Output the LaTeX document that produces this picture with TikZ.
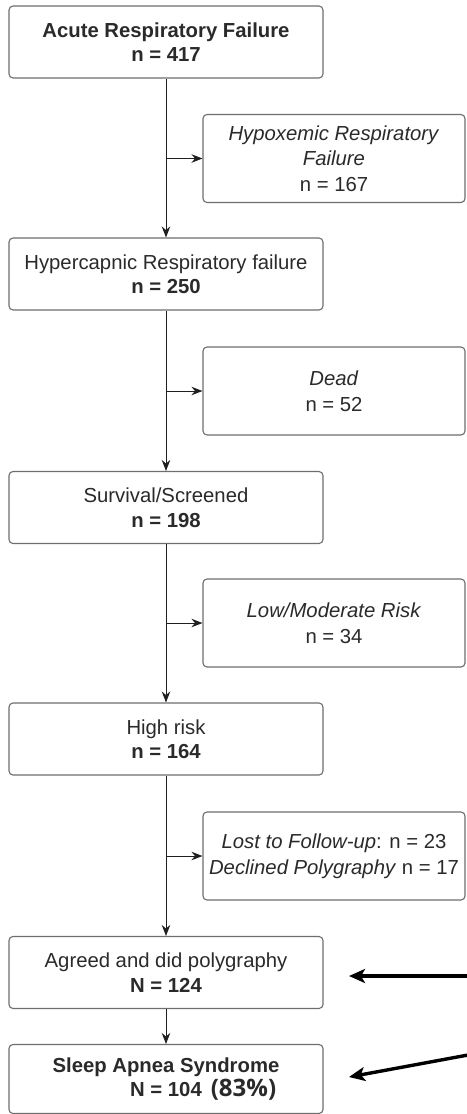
\documentclass[tikz,border=0pt]{standalone}
\usepackage{fontspec}
\setmainfont{Liberation Sans}
\newfontfamily\pctfont{Open Sans}
\usetikzlibrary{arrows.meta}
\definecolor{boxgray}{HTML}{6E6E6E}
\definecolor{txt}{HTML}{2A2A2A}
\begin{document}
\begin{tikzpicture}[x=1pt,y=-1pt,
  mainbox/.style={draw=boxgray, line width=1.1pt, rounded corners=4pt,
    minimum width=314pt, minimum height=72pt, inner sep=0pt, align=center,
    font=\fontsize{20.3}{24.5}\selectfont, text=txt},
  sidebox/.style={mainbox, minimum width=262pt, minimum height=88pt,
    font=\fontsize{20.3}{25.5}\selectfont},
  flow/.style={draw=black!88, line width=1pt, -{Stealth[length=11pt,width=8.5pt]}},
  bigarrow/.style={draw=black, line width=3.4pt, -{Stealth[length=16pt,width=14pt,inset=4pt]}}]
\useasboundingbox (0,0) rectangle (466,1114);
\fill[white] (0,0) rectangle (466,1114);

% main column
\node[mainbox] (b1) at (166,42) {\textbf{Acute Respiratory Failure}\\\textbf{n = 417}};
\node[mainbox] (b3) at (166,274) {Hypercapnic Respiratory failure\\\textbf{n = 250}};
\node[mainbox] (b5) at (166,507.5) {Survival/Screened\\\textbf{n = 198}};
\node[mainbox] (b7) at (166,739) {High risk\\\textbf{n = 164}};
\node[mainbox] (b9) at (166,972.5) {Agreed and did polygraphy\\\textbf{N = 124}};
\node[mainbox, minimum height=69pt] (b10) at (166,1079) {\textbf{Sleep Apnea Syndrome}\\\textbf{N = 104}\rlap{\hspace{9pt}{\pctfont\bfseries\fontsize{24}{24}\selectfont (83\%)}}};

% side boxes
\node[sidebox] (r2) at (334,158.5) {\textit{Hypoxemic Respiratory}\\\textit{Failure}\\n = 167};
\node[sidebox] (r4) at (334,391) {\textit{Dead}\\n = 52};
\node[sidebox] (r6) at (334,623) {\textit{Low/Moderate Risk}\\n = 34};
\node[sidebox] (r8) at (334,856) {\textit{Lost to Follow-up}: n = 23\\\textit{Declined Polygraphy} n = 17};

% vertical flow
\draw[flow] (b1) -- (b3);
\draw[flow] (b3) -- (b5);
\draw[flow] (b5) -- (b7);
\draw[flow] (b7) -- (b9);
\draw[flow] (b9) -- (b10);

% side branches
\draw[flow] (b1.south |- r2.west) -- (r2.west);
\draw[flow] (b3.south |- r4.west) -- (r4.west);
\draw[flow] (b5.south |- r6.west) -- (r6.west);
\draw[flow] (b7.south |- r8.west) -- (r8.west);

% black pointer arrows
\coordinate (s1) at (468,976);
\coordinate (t1) at (349,976);
\coordinate (s2) at (468,1055);
\coordinate (t2) at (349,1077);
\draw[bigarrow] (s1) -- (t1);
\draw[bigarrow] (s2) -- (t2);
\end{tikzpicture}
\end{document}
